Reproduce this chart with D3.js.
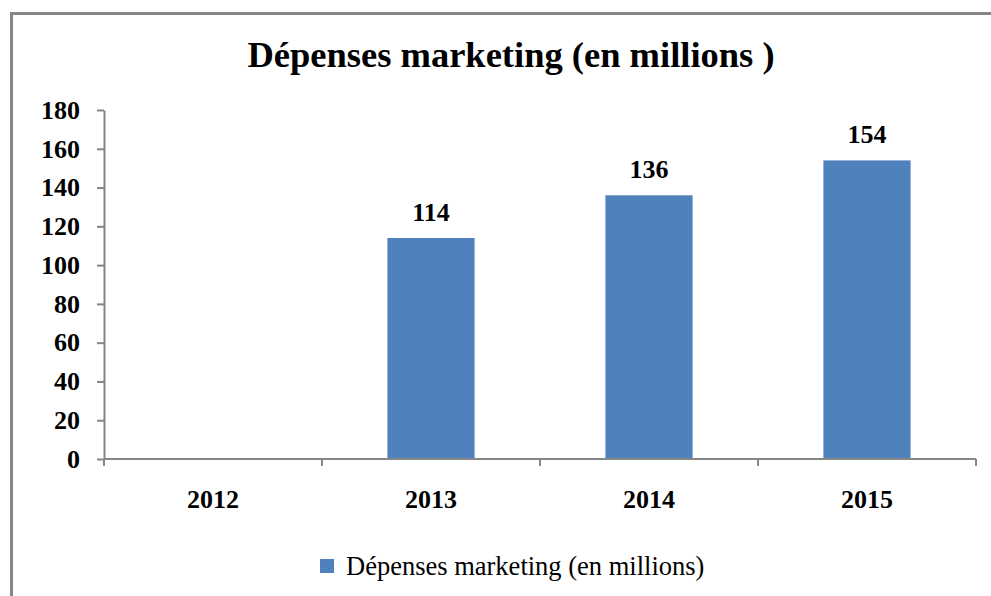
<!DOCTYPE html>
<html>
<head>
<meta charset="utf-8">
<script src="https://cdn.jsdelivr.net/npm/d3@7"></script>
<style>
  html, body { margin: 0; padding: 0; background: #fff; }
  svg { display: block; }
</style>
</head>
<body>
<svg id="chart" width="991" height="596"></svg>
<script>
// Marketing spend per year, in millions
const years = ["2012", "2013", "2014", "2015"];
const spend = [null, 114, 136, 154];
const yTicks = [0, 20, 40, 60, 80, 100, 120, 140, 160, 180];
const chartTitle = "Dépenses marketing (en millions )";
const seriesName = "Dépenses marketing (en millions)";

const W = 991, H = 596;
const plot = { left: 104, right: 976, top: 110, bottom: 459 };
const axisColor = "#868686";
const barColor = "#4F81BD";
const serif = "Liberation Serif";

const svg = d3.select("#chart");

// outer frame of the chart area
svg.append("rect")
  .attr("x", 11.5).attr("y", 13.5)
  .attr("width", W + 20).attr("height", H + 20)
  .attr("fill", "#fff")
  .attr("stroke", axisColor).attr("stroke-width", 3);

svg.append("text")
  .attr("x", 511).attr("y", 67)
  .attr("text-anchor", "middle")
  .style("font-family", serif)
  .attr("font-size", 36.5).attr("font-weight", "bold")
  .text(chartTitle);

const x = d3.scaleBand().domain(years).range([plot.left, plot.right]).padding(0);
const y = d3.scaleLinear().domain([0, 180]).range([plot.bottom, plot.top]);

const barW = x.bandwidth() * 0.4;
const rows = years.map((yr, i) => ({ year: yr, value: spend[i] })).filter(d => d.value != null);

// bars
svg.append("g").selectAll("rect").data(rows).join("rect")
  .attr("x", d => x(d.year) + (x.bandwidth() - barW) / 2)
  .attr("y", d => y(d.value))
  .attr("width", barW)
  .attr("height", d => y(0) - y(d.value))
  .attr("fill", barColor);

// value labels
svg.append("g").selectAll("text").data(rows).join("text")
  .attr("x", d => x(d.year) + x.bandwidth() / 2)
  .attr("y", d => y(d.value) - 17)
  .attr("text-anchor", "middle")
  .style("font-family", serif)
  .attr("font-size", 26).attr("font-weight", "bold")
  .text(d => d.value);

// y axis
const yAxis = svg.append("g")
  .attr("transform", `translate(${plot.left},0)`)
  .call(d3.axisLeft(y).tickValues(yTicks).tickSize(7).tickSizeOuter(0).tickPadding(17));
yAxis.select(".domain").attr("stroke", axisColor).attr("stroke-width", 2);
yAxis.selectAll(".tick line").attr("stroke", axisColor).attr("stroke-width", 2);
yAxis.selectAll(".tick text")
  .style("font-family", serif)
  .attr("font-size", 26).attr("font-weight", "bold").attr("fill", "#000");

// x axis with ticks on category boundaries
const xAxis = svg.append("g")
  .attr("transform", `translate(0,${plot.bottom})`);
xAxis.append("line")
  .attr("x1", plot.left).attr("x2", plot.right)
  .attr("stroke", axisColor).attr("stroke-width", 2);
const bounds = years.map(yr => x(yr)).concat([x(years[years.length - 1]) + x.bandwidth()]);
xAxis.selectAll("line.tk").data(bounds).join("line")
  .attr("class", "tk")
  .attr("x1", d => d).attr("x2", d => d)
  .attr("y1", 0).attr("y2", 7)
  .attr("stroke", axisColor).attr("stroke-width", 2);
xAxis.selectAll("text").data(years).join("text")
  .attr("x", d => x(d) + x.bandwidth() / 2)
  .attr("y", 49)
  .attr("text-anchor", "middle")
  .style("font-family", serif)
  .attr("font-size", 26).attr("font-weight", "bold")
  .text(d => d);

// legend
const lg = svg.append("g");
lg.append("rect")
  .attr("x", 320).attr("y", 559).attr("width", 14).attr("height", 14)
  .attr("fill", barColor);
lg.append("text")
  .attr("x", 346).attr("y", 575)
  .style("font-family", serif)
  .attr("font-size", 26.5)
  .text(seriesName);
</script>
</body>
</html>
